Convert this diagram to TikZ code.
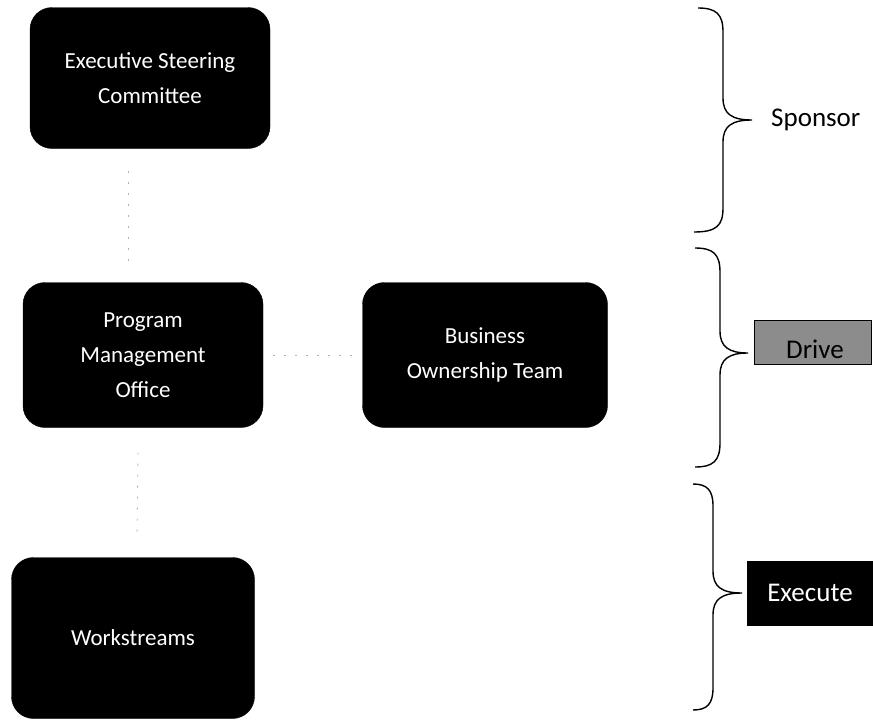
\documentclass[tikz,border=0pt]{standalone}
\usepackage{fontspec}
\setmainfont{Carlito}
\usetikzlibrary{arrows.meta}
\begin{document}
\begin{tikzpicture}[x=1pt,y=-1pt,
  orgbox/.style={draw=black, fill=black, rounded corners=22pt, text=white,
    align=center, font=\fontsize{23}{35}\selectfont, inner sep=0pt},
  conn/.style={draw=black!30, line width=0.8pt, dash pattern=on 2pt off 9pt},
  bracepath/.style={draw=black, line width=1.4pt},
  tag/.style={font=\fontsize{27}{30}\selectfont, inner sep=0pt}
]
\useasboundingbox (0,0) rectangle (873,720);
\node[orgbox, minimum width=240pt, minimum height=141pt] (exec) at (150,78) {Executive Steering\\Committee};
\node[orgbox, minimum width=240pt, minimum height=145pt] (pmo) at (143,355) {Program\\Management\\Office};
\node[orgbox, minimum width=245pt, minimum height=145pt] (bot) at (485,355) {Business\\Ownership Team};
\node[orgbox, minimum width=243pt, minimum height=161pt] (ws) at (133,638) {Workstreams};

\draw[conn] ([xshift=-22pt,yshift=-22pt]exec.south) -- ([xshift=-15pt,yshift=20pt]pmo.north);
\draw[conn] ([xshift=-5pt,yshift=-25pt]pmo.south) -- ([xshift=4pt,yshift=18pt]ws.north);
\draw[conn] ([xshift=10pt]pmo.east) -- ([xshift=-10pt]bot.west);

% braces
\draw[bracepath] (698,8) .. controls (716,8) and (723,14) .. (723,32) -- (723,98)
  .. controls (723,114) and (732,120) .. (752,120)
  .. controls (732,120) and (723,126) .. (723,142) -- (723,208)
  .. controls (723,226) and (716,232) .. (694,232);
\draw[bracepath] (695,248) .. controls (713,248) and (720,254) .. (720,272) -- (720,331)
  .. controls (720,347) and (729,353) .. (748,353)
  .. controls (729,353) and (720,359) .. (720,375) -- (720,443)
  .. controls (720,461) and (713,467) .. (695,467);
\draw[bracepath] (693,484) .. controls (707,484) and (713,490) .. (713,506) -- (713,571)
  .. controls (713,587) and (722,593) .. (742,593)
  .. controls (722,593) and (713,599) .. (713,615) -- (713,688)
  .. controls (713,704) and (707,710) .. (693,710);

\node[tag, anchor=west] (sponsor) at (771,120) {Sponsor};
\node[tag, draw=black, fill=black!45, minimum width=117pt, minimum height=44pt] (drive) at (813,342) {};
\node[tag, anchor=center] (drivet) at (815,349) {Drive};
\node[tag, draw=black, fill=black, text=white, minimum width=125pt, minimum height=64pt] (exe) at (810,593) {Execute};
\end{tikzpicture}
\end{document}
